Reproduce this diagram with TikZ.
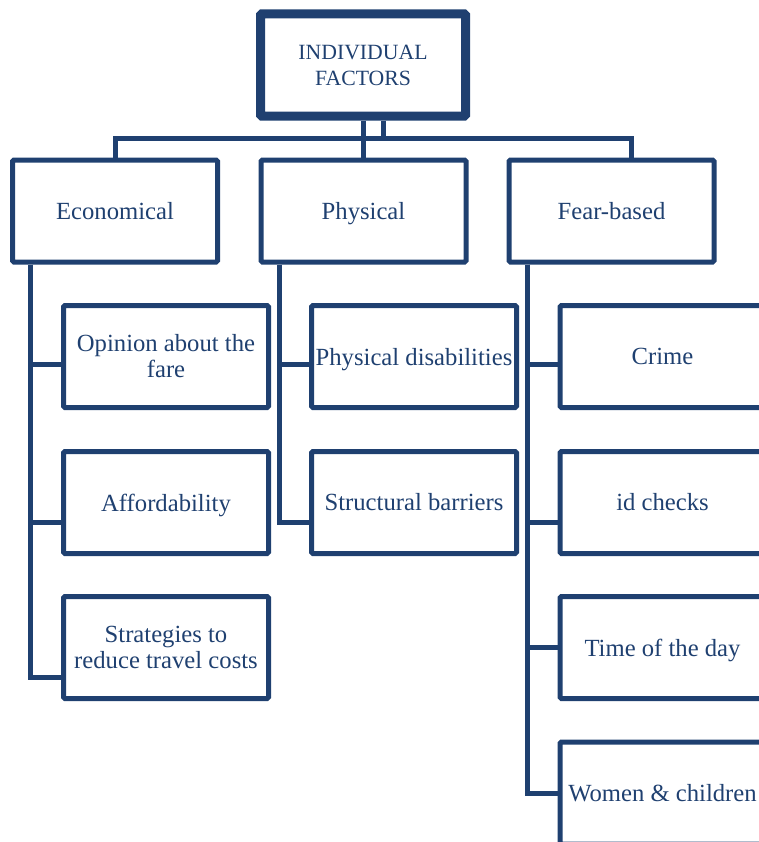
\documentclass[tikz,border=0pt]{standalone}
\usepackage{fontspec}
\setmainfont{Liberation Serif}
\usepackage{tikz}
\usetikzlibrary{calc,positioning}
\definecolor{chartblue}{RGB}{31,64,112}
\tikzset{>=latex}
\tikzset{
  box/.style={draw=chartblue, line width=3.75pt, rounded corners=1pt, minimum width=153.75pt, minimum height=76.5pt, inner sep=2pt, align=center, text=chartblue, font=\fontsize{18.5}{19.5}\selectfont},
  flat/.style={text depth=0pt},
  topbox/.style={box, line width=6.75pt, font=\fontsize{16.3}{19.5}\selectfont},
  link/.style={draw=chartblue, line width=3.75pt}
}

\begin{document}
\begin{tikzpicture}[x=0.75pt, y=-0.75pt]
\useasboundingbox (0,0) rectangle (758,842);
% head and the three groups
\node[topbox] (indiv) at (363,65) {INDIVIDUAL\\FACTORS};
\node[box] (econ) at (115,211) {Economical};
\node[box, flat] (phys) at (363.5,211) {Physical};
\node[box] (fear) at (611.5,211) {Fear-based};
% children
\node[box] (opinion) at (166,356.5) {Opinion about the\\fare};
\node[box, flat] (afford) at (166,502.5) {Affordability};
\node[box] (strat) at (166,647.5) {Strategies to\\reduce travel costs};
\node[box, flat] (disab) at (414,356.5) {Physical disabilities};
\node[box] (barrier) at (414,502.5) {Structural barriers};
\node[box] (crime) at (662.5,356.5) {Crime};
\node[box] (idcheck) at (662.5,502.5) {id checks};
\node[box, flat] (daytime) at (662.5,647.5) {Time of the day};
\node[box] (women) at (662.5,793) {Women \& children};

% top connectors
\coordinate (barR) at ($(fear.north)+(20,-19)$);
\coordinate (stub) at ($(indiv.south)+(20,0)$);
\draw[link] (econ.north) |- (barR) -- (barR |- fear.north);
\draw[link] (indiv.south) -- (indiv.south |- phys.north);
\draw[link] (stub) -- (stub |- barR);

% trunks
\coordinate (econT) at ($(econ.south west)+(20.5,0)$);
\coordinate (physT) at ($(phys.south west)+(20.5,0)$);
\coordinate (fearT) at ($(fear.south west)+(20.5,0)$);
\draw[link] (econT) |- ($(opinion.west)+(0,7.5)$);
\draw[link] (econT) |- ($(afford.west)+(0,19.5)$);
\draw[link] (econT) |- ($(strat.west)+(0,30)$);
\draw[link] (physT) |- ($(disab.west)+(0,7.5)$);
\draw[link] (physT) |- ($(barrier.west)+(0,19.5)$);
\draw[link] (fearT) |- ($(crime.west)+(0,7.5)$);
\draw[link] (fearT) |- ($(idcheck.west)+(0,19.5)$);
\draw[link] (fearT) |- (daytime.west);
\draw[link] (fearT) |- (women.west);
\end{tikzpicture}
\end{document}
